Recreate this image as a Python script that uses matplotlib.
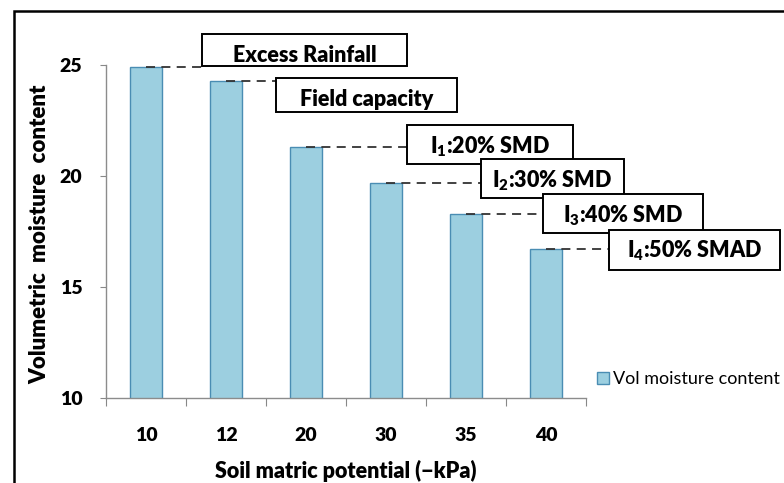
import matplotlib.pyplot as plt
from matplotlib.patches import Rectangle

plt.rcParams['font.family'] = ['Lato', 'DejaVu Sans']
plt.rcParams['mathtext.fontset'] = 'custom'
plt.rcParams['mathtext.bf'] = 'Lato:heavy'
plt.rcParams['mathtext.rm'] = 'Lato:heavy'
plt.rcParams['mathtext.default'] = 'bf'

# soil matric potential (-kPa) and volumetric moisture content
potential = ['10', '12', '20', '30', '35', '40']
moisture = [24.9, 24.3, 21.3, 19.7, 18.3, 16.7]

# annotation labels, one per bar
labels = ['Excess Rainfall', 'Field capacity', '$I_1$:20% SMD',
          '$I_2$:30% SMD', '$I_3$:40% SMD', '$I_4$:50% SMAD']

W, H = 784, 483
BOLD = 'heavy'
fig = plt.figure(figsize=(W / 100, H / 100), dpi=100)

# axes placed in pixel terms
ax_l, ax_r, ax_t, ax_b = 106, 586, 65, 398
ax = fig.add_axes([ax_l / W, 1 - ax_b / H, (ax_r - ax_l) / W, (ax_b - ax_t) / H])

x = range(len(potential))
bars = ax.bar(x, moisture, width=0.41, color='#9ccfe0', edgecolor='#4a8db3',
              linewidth=1.0, label='Vol moisture content', zorder=2)

ax.set_xlim(-0.5, len(potential) - 0.5)
ax.set_ylim(10, 25)
ax.set_yticks([10, 15, 20, 25])
ax.set_xticks([i - 0.5 for i in range(len(potential) + 1)], minor=False)
ax.set_xticklabels([])
ax.set_xticks(list(x), minor=True)
ax.set_xticklabels(potential, minor=True, fontsize=14, fontweight=BOLD)
ax.tick_params(axis='x', which='major', length=6, color='#888888', direction='out')
ax.tick_params(axis='x', which='minor', length=0, pad=21)
ax.tick_params(axis='y', length=4, color='#888888', pad=13)
for t in ax.get_yticklabels():
    t.set_fontsize(14)
    t.set_fontweight(BOLD)

for s in ['top', 'right']:
    ax.spines[s].set_visible(False)
for s in ['left', 'bottom']:
    ax.spines[s].set_color('#8c8c8c')
    ax.spines[s].set_linewidth(1.0)


def fx(px):
    return px / W


def fy(py):
    return 1 - py / H


def data_x(px):
    return -0.5 + (px - ax_l) / (ax_r - ax_l) * len(potential)


fig.text(fx(346), fy(471), 'Soil matric potential (\u2212kPa)', ha='center', va='center',
         fontsize=15.5, fontweight=BOLD)
fig.text(fx(40), fy(234), 'Volumetric  moisture  content', ha='center', va='center',
         rotation=90, fontsize=16, fontweight=BOLD)

# label boxes: left, top, right, bottom, text centre y (pixels)
boxes = [
    (202, 34, 407, 66, 55),
    (276, 78, 457, 112, 100),
    (407, 125, 573, 164, 147),
    (481, 159, 624, 198, 181),
    (543, 194, 703, 233, 216),
    (609, 230, 780, 270, 251),
]

for i, (lab, (l, t, r, b, ty)) in enumerate(zip(labels, boxes)):
    ax.plot([i, data_x(l)], [moisture[i], moisture[i]], color='#333333',
            linestyle=(0, (5, 3.5)), linewidth=1.3, clip_on=False, zorder=3)
    fig.add_artist(Rectangle((fx(l), fy(b)), fx(r) - fx(l), fy(t) - fy(b),
                             transform=fig.transFigure, facecolor='white',
                             edgecolor='black', linewidth=1.4, zorder=4))
    fig.text(fx((l + r) / 2), fy(ty), lab, ha='center', va='center',
             fontsize=15.5, fontweight=BOLD, zorder=5)

fig.legend(handles=[bars], loc='center left', bbox_to_anchor=(fx(597), fy(379)),
           frameon=False, fontsize=13, handlelength=0.65, handleheight=0.65,
           handletextpad=0.25, borderaxespad=0, borderpad=0)

# outer frame running off the right and bottom edges
fig.add_artist(Rectangle((fx(14), fy(530)), fx(830) - fx(14), fy(11) - fy(530),
                         transform=fig.transFigure, fill=False,
                         edgecolor='black', linewidth=1.8, zorder=6))

fig.savefig('out.png', dpi=100)
